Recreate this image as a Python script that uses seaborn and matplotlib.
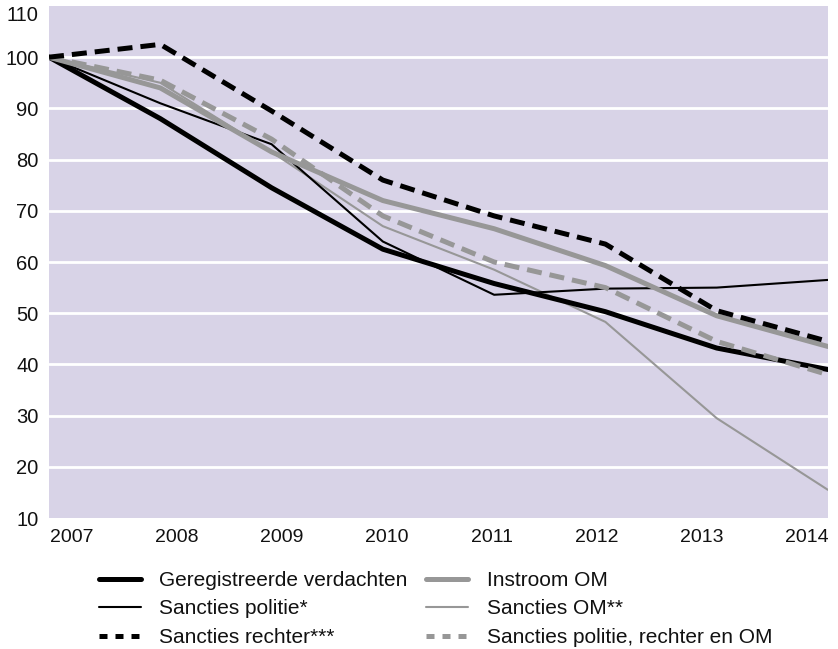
import numpy as np
import pandas as pd
import seaborn as sns
import matplotlib.pyplot as plt
from matplotlib.lines import Line2D

years = [2007, 2008, 2009, 2010, 2011, 2012, 2013, 2014]

geregistreerde = [100, 88, 74.5, 62.5, 55.8, 50.3, 43.2, 39]
sancties_politie = [100, 91, 83, 64, 53.6, 54.8, 55, 56.5]
sancties_rechter = [100, 102.5, 89.5, 76, 69, 63.5, 50.5, 44.5]
instroom_om = [100, 94, 81.5, 72, 66.5, 59.3, 49.5, 43.5]
sancties_om = [100, 95, 81.5, 67, 58.5, 48.3, 29.5, 15.5]
sancties_totaal = [100, 95.5, 84, 69, 60, 55, 44.5, 38]

labels = ["Geregistreerde verdachten", "Sancties politie*", "Sancties rechter***",
          "Instroom OM", "Sancties OM**", "Sancties politie, rechter en OM"]
series = [geregistreerde, sancties_politie, sancties_rechter,
          instroom_om, sancties_om, sancties_totaal]

# colour, width, dashed
styles = [("black", 3.6, False), ("black", 1.5, False), ("black", 3.6, True),
          ("#979797", 3.6, False), ("#979797", 1.5, False), ("#979797", 3.6, True)]

df = pd.DataFrame({"jaar": years * len(labels),
                   "waarde": sum(series, []),
                   "reeks": np.repeat(labels, len(years))})

sns.set_style("white")
plt.rcParams['font.family'] = ['Liberation Sans', 'DejaVu Sans']

fig = plt.figure(figsize=(8.38, 6.49), dpi=100)
ax = fig.add_axes([0.0585, 0.2018, 0.9295, 0.789])
ax.set_facecolor("#d8d3e7")

for i in [4, 1, 0, 3, 5, 2]:
    col, lw, dashed = styles[i]
    sub = df[df["reeks"] == labels[i]]
    sns.lineplot(data=sub, x="jaar", y="waarde", ax=ax, color=col, linewidth=lw,
                 linestyle=(0, (3.0, 1.6)) if dashed else "-", legend=False, zorder=3)

ax.set_xlim(2007, 2014)
ax.set_ylim(10, 110)
ax.set_yticks(range(10, 111, 10))
# year labels are spread evenly inside the plot width, not exactly under the points
ax.set_xticks(np.linspace(2007.2, 2013.81, len(years)))
ax.set_xticklabels(years)
ax.set_xlabel("")
ax.set_ylabel("")
for y in range(20, 110, 10):
    ax.axhline(y, color="white", linewidth=2, zorder=1)
for s in ax.spines.values():
    s.set_visible(False)
ax.tick_params(axis="both", length=0, labelcolor="#111111")
ax.tick_params(axis="x", pad=8, labelsize=14)
ax.tick_params(axis="y", pad=7.5, labelsize=14.5)
ax.get_yticklabels()[-1].set_verticalalignment("top")

handles = []
for col, lw, dashed in styles:
    handles.append(Line2D([0], [0], color=col, linewidth=lw,
                          linestyle=(0, (1.6, 1.6)) if dashed else "-"))
fig.legend(handles, labels, ncol=2, loc="upper left", bbox_to_anchor=(0.118, 0.12),
           frameon=False, fontsize=15, handlelength=2.0, handletextpad=0.9,
           columnspacing=0.9, labelspacing=0.45, borderaxespad=0, borderpad=0,
           labelcolor="#111111")

fig.savefig("out.png", dpi=100)
